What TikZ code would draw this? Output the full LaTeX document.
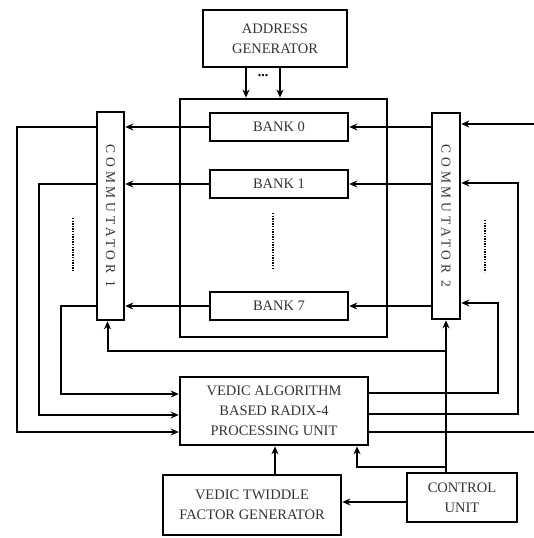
\documentclass[tikz,border=0pt]{standalone}
\usepackage{fontspec}
\setmainfont{Liberation Serif}
\newfontfamily\spacedfont[LetterSpace=28]{Liberation Serif}
\usetikzlibrary{arrows.meta}

\tikzset{
  blk/.style={draw, line width=2.6pt, inner sep=0pt, align=center,
    text=black!80, font=\fontsize{14.5}{20}\selectfont},
  wire/.style={line width=2pt},
  thinwire/.style={line width=1.4pt},
  arr/.style={wire, -{Stealth[length=8pt,width=7pt]}},
  thinarr/.style={thinwire, -{Stealth[length=8pt,width=7pt]}},
  vdots/.style={line width=2.2pt, dash pattern=on 1.4pt off 1.2pt}
}

\begin{document}
\begin{tikzpicture}[x=1pt,y=-1pt]
    \useasboundingbox (0,0) rectangle (534,538);

    % Address generator
    \node[blk, minimum width=144, minimum height=57] (addr) at (275,38.5) {ADDRESS\\GENERATOR};
    \node[font=\bfseries\fontsize{14}{14}\selectfont] (adots) at (263,76) {...};

    % Memory banks
    \node[draw, line width=2.8pt, minimum width=207, minimum height=238] (mem) at (283.5,218) {};
    \node[blk, minimum width=138, minimum height=28] (bank0) at (279,127) {BANK 0};
    \node[blk, minimum width=138, minimum height=28] (bank1) at (279,184) {BANK 1};
    \node[blk, minimum width=138, minimum height=28] (bank7) at (279,306) {BANK 7};
    \draw[vdots] (273,213) -- (273,268);

    \draw[arr] (addr.south -| 246,0) -- (mem.north -| 246,0);
    \draw[arr] (addr.south -| 280,0) -- (mem.north -| 280,0);

    % Commutators
    \node[draw, line width=2.6pt, minimum width=27, minimum height=208] (comm1) at (110.5,216) {};
    \node[rotate=-90, text=black!80, font=\spacedfont\fontsize{13.5}{16}\selectfont] (comm1txt) at (comm1) {COMMUTATOR 1};
    \node[draw, line width=2.6pt, minimum width=28, minimum height=206] (comm2) at (446,216) {};
    \node[rotate=-90, text=black!80, font=\spacedfont\fontsize{13.5}{16}\selectfont] (comm2txt) at (comm2) {COMMUTATOR 2};
    \draw[vdots] (73,218) -- (73,272);
    \draw[vdots] (485,220) -- (485,272);

    % Banks to commutator 1, commutator 2 to banks
    \foreach \b in {bank0,bank1,bank7} {
        \draw[thinarr] (\b.west) -- (\b.west -| comm1.east);
        \draw[thinarr] (\b.east -| comm2.west) -- (\b.east);
    }

    % Processing unit
    \node[blk, minimum width=188, minimum height=68] (pu) at (274,411) {VEDIC ALGORITHM\\BASED RADIX-4\\PROCESSING UNIT};

    % Commutator 1 to processing unit
    \draw[arr] (bank0.west -| comm1.west) -- ++(-79,0) |- (pu.west |- 0,432);
    \draw[arr] (bank1.west -| comm1.west) -- ++(-57,0) |- (pu.west |- 0,415);
    \draw[arr] (bank7.west -| comm1.west) -- ++(-35,0) |- (pu.west |- 0,394);

    % Processing unit to commutator 2
    \coordinate (rin) at (534,124);
    \coordinate (rout) at (534,432);
    \draw[arr] (rin) -- (rin -| comm2.east);
    \draw[arr] (pu.east |- 0,414) -- ++(149,0) |- (comm2.east |- 0,183);
    \draw[arr] (pu.east |- 0,393) -- ++(129,0) |- (comm2.east |- 0,303);
    \draw[wire] (pu.east |- 0,432) -- (rout);

    % Twiddle factor generator and control unit
    \node[blk, minimum width=178, minimum height=60] (twid) at (252,505) {VEDIC TWIDDLE\\FACTOR GENERATOR};
    \node[blk, minimum width=110, minimum height=49] (ctrl) at (462,497.5) {CONTROL\\UNIT};

    \draw[arr] (ctrl.north -| comm2.south) -- (comm2.south);
    \coordinate (fb) at (446,351);
    \draw[arr] (fb) -| ([xshift=-3pt]comm1.south);
    \coordinate (pb) at (446,467);
    \draw[arr] (pb) -| ([xshift=83pt]pu.south);
    \draw[arr] (ctrl.west |- 0,502) -- (twid.east |- 0,502);
    \draw[arr] (twid.north -| 275,0) -- (pu.south -| 275,0);
\end{tikzpicture}
\end{document}
